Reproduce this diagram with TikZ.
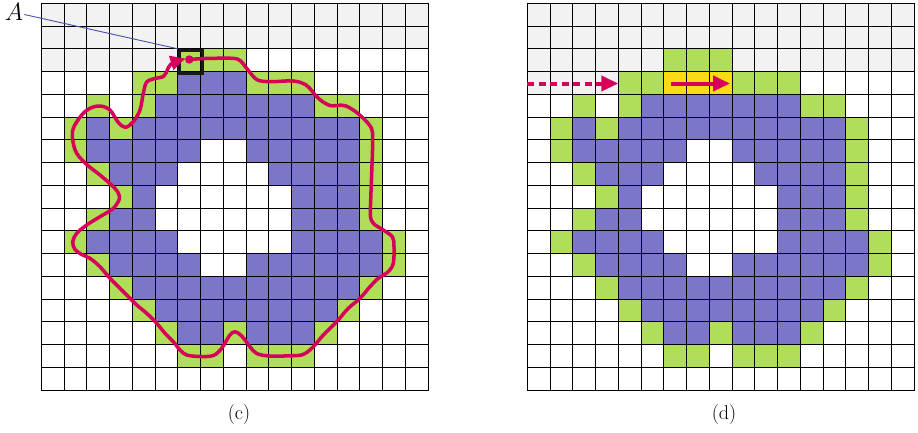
\documentclass[tikz,border=0pt]{standalone}
\usetikzlibrary{arrows.meta}
\definecolor{graycell}{RGB}{242,242,242}
\definecolor{greencell}{RGB}{176,221,90}
\definecolor{purplecell}{RGB}{124,118,200}
\definecolor{yellowcell}{RGB}{249,220,20}
\definecolor{redc}{RGB}{214,0,90}
\definecolor{bluec}{RGB}{70,80,170}
\newcommand\blobcells{%
  \foreach \r/\cs in {2/{6,7,8},3/{4,5,9,10,11},4/{2,4,12,13},5/{1,3,14},6/{1,14},7/{2,14},8/{3,14},9/{2,14},10/{1,15},11/{2,15},12/{3,14},13/{4,13},14/{5,8,12},15/{6,7,9,10,11}}
    {\foreach \c in \cs {\fill[greencell] (\c,\r) rectangle +(1,1);}}%
  \foreach \r/\cs in {4/{5,...,11},5/{2,4,5,6,7,8,9,10,11,12,13},6/{2,3,4,5,6,9,10,11,12,13},7/{3,4,5,10,11,12,13},8/{4,11,12,13},9/{3,4,11,12,13},10/{2,3,4,5,11,12,13,14},11/{3,4,5,6,9,10,11,12,13,14},12/{4,...,13},13/{5,...,12},14/{6,7,9,10,11}}
    {\foreach \c in \cs {\fill[purplecell] (\c,\r) rectangle +(1,1);}}%
}
\newcommand\gridlines{%
  \foreach \i in {0,...,17} {\draw[gridline] (\i,0) -- (\i,17); \draw[gridline] (0,\i) -- (17,\i);}%
}
\tikzset{
  gridline/.style={line width=1.1pt, black, line cap=rect},
  cellscope/.style={x=22.75pt, y=-22.75pt},
  caption/.style={inner sep=0pt},
  redarrow/.style={redc, line width=4pt, -{Triangle[length=17pt,width=15pt]}},
}
\begin{document}
\begin{tikzpicture}[x=1pt,y=-1pt]
\useasboundingbox (0,0) rectangle (918,432);
% ---------- left grid (c) ----------
\begin{scope}[shift={(41.3pt,-3.3pt)}, cellscope]
  \fill[graycell] (0,0) rectangle (17,2);
  \fill[graycell] (0,2) rectangle (6,3);
  \blobcells
  \foreach \c in {6,7,8} {\fill[purplecell] (\c,3) rectangle +(1,1);}
  \gridlines
\end{scope}
% ---------- right grid (d) ----------
\begin{scope}[shift={(527.3pt,-3.3pt)}, cellscope]
  \fill[graycell] (0,0) rectangle (17,2);
  \fill[graycell] (0,2) rectangle (6,3);
  \fill[graycell] (9,2) rectangle (17,3);
  \fill[graycell] (0,3) rectangle (4,4);
  \blobcells
  \foreach \c in {6,7,8} {\fill[yellowcell] (\c,3) rectangle +(1,1);}
  \gridlines
\end{scope}
% ---------- start cell A ----------
\node[draw=black!90, line width=3.2pt, minimum size=22.75pt, inner sep=0pt, anchor=north west] (box) at (177.8,48.8) {};
\node[inner sep=1pt] (Alab) at (14,11.5) {\fontsize{25}{28}\selectfont$A$};
\draw[bluec, line width=0.9pt] ([yshift=-3pt]Alab.east) -- (box.north west);
% ---------- traced contour ----------
\coordinate (dot) at (189.3,59.5);
\coordinate (tip) at (185.5,58.5);
\draw[redc, line width=3.5pt, line join=round, -{Triangle[length=15pt,width=14pt]}]
  plot[smooth, tension=0.55] coordinates {
  (dot) (205,58.5) (232,58.3) (240,60.5) (246.7,68.3) (256.7,79.5) (270,81.7) (293.3,81) (306.7,85.5)
  (318.3,98.3) (330,105.5) (343.3,105.3) (353.3,110) (363.3,118.3) (371.5,128.3) (372.7,140)
  (371.7,173.3) (370.7,200) (370.5,216.7) (374,224) (383.3,230) (392.5,237) (394,247)
  (393.3,263.3) (388.3,271.7) (378.3,278.3) (370,286.7) (360,298.3) (348.3,308.3) (336.7,321.7)
  (323.3,335) (313.3,346.7) (305,353.5) (296.7,355.5) (270,356) (256.7,353.5) (250,346.7)
  (241.7,336) (235,331.7) (229.5,335.5) (221.7,348.3) (213.3,355.5) (200,356.5) (186.7,355)
  (180,350) (173.3,341.7) (165,333.3) (156.7,323.3) (146.7,313.3) (136.7,305) (130,298.3)
  (120,288.3) (110,278.3) (100,266.7) (90,258.3) (81.7,254.5) (75,249.5) (72.7,241.7)
  (76.7,233.3) (86.7,225) (100,216.7) (113.3,208.3) (119.3,199) (118,192.5) (113.3,186.7)
  (100,175) (87.3,165) (76.7,153.3) (72.7,140) (73.3,128.3) (81.7,115) (90,108.3) (100,106)
  (110,110) (118.3,122.5) (125.5,127.3) (133.3,121.7) (140,110) (143.3,93.3) (146.7,82)
  (155,78.5) (163.3,76.5) (167,71) (171,64) (tip)};
\fill[redc] (dot) circle (4.2pt);
% ---------- scan arrows (d) ----------
\coordinate (dsA) at (527.3,83.5);
\coordinate (dsB) at (618.3,83.5);
\coordinate (soA) at (671,83.5);
\coordinate (soB) at (730,83.5);
\draw[redarrow, dash pattern=on 7pt off 4.5pt] (dsA) -- (dsB);
\draw[redarrow] (soA) -- (soB);
% ---------- captions ----------
\node[caption] (capc) at (239,415) {\fontsize{20}{24}\selectfont (c)};
\node[caption] (capd) at (724,415) {\fontsize{20}{24}\selectfont (d)};
\end{tikzpicture}
\end{document}
